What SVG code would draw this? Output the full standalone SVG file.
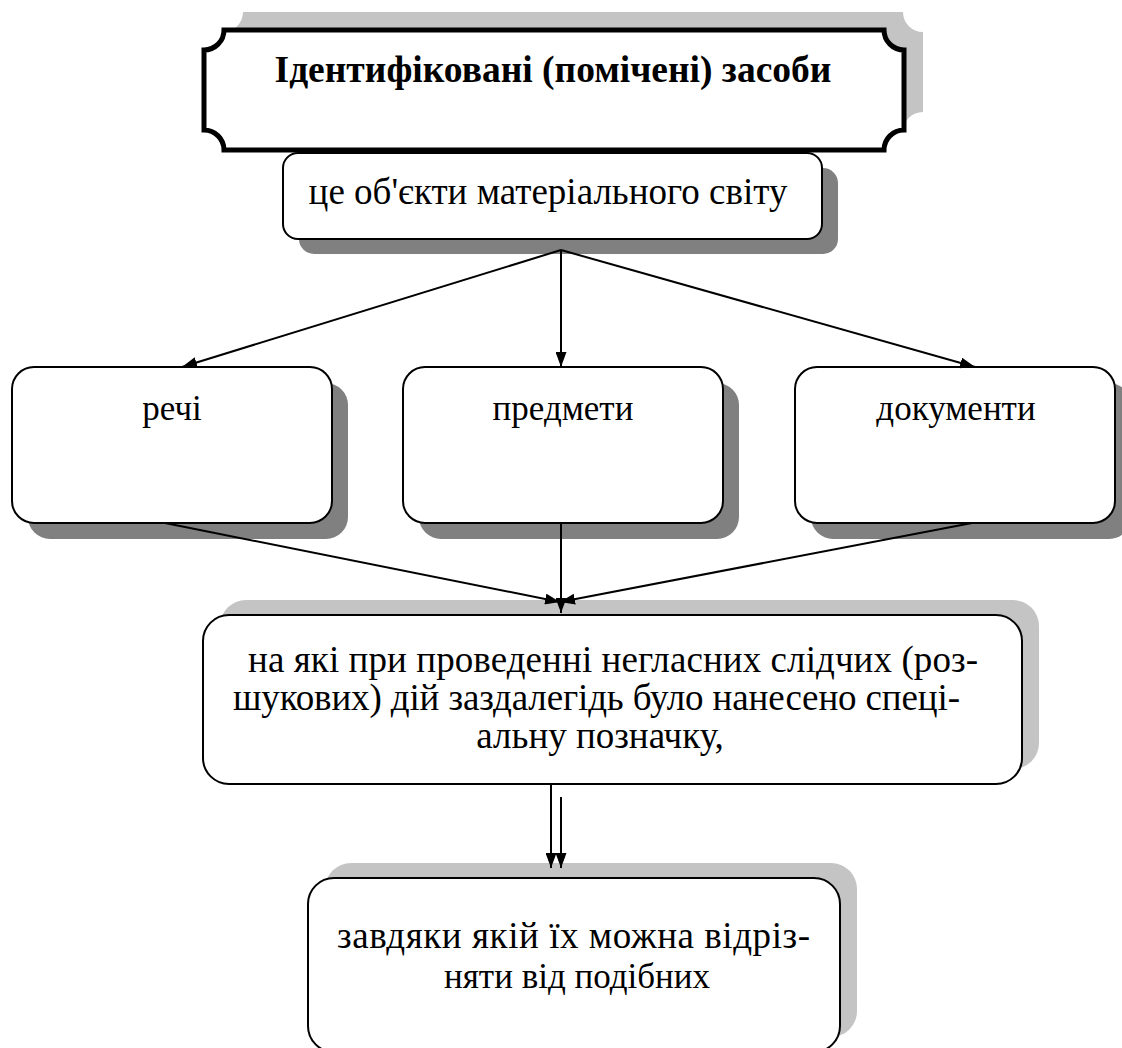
<svg xmlns="http://www.w3.org/2000/svg" width="1122" height="1048" viewBox="0 0 1122 1048">
<style>
.box{fill:#fff;stroke:#000;stroke-width:2}
.sh-dark{fill:#808080}
.sh-light{fill:#c4c4c4}
text{font-family:'Liberation Serif','DejaVu Serif',serif;fill:#000;text-anchor:middle}
.t{font-size:35px}
.tm{font-size:37px}
.tb{font-size:37.5px;font-weight:bold}
.st{text-anchor:start}
.c{stroke:#000;stroke-width:2;fill:none}
</style>
<defs>
<marker id="ah" viewBox="0 0 15 11" refX="15" refY="5.5" markerWidth="15" markerHeight="11" markerUnits="userSpaceOnUse" orient="auto">
<path d="M0,0 L15,5.5 L0,11 z" fill="#000"/>
</marker>
</defs>

<g id="node-title">
<path class="sh-light" d="M243,12 H903 A20 20 0 0 0 923,32 V112 A20 20 0 0 0 903,132 H243 A20 20 0 0 0 223,112 V32 A20 20 0 0 0 243,12 Z"/>
<path d="M224,30 H884 A20 20 0 0 0 904,50 V130 A20 20 0 0 0 884,150 H224 A20 20 0 0 0 204,130 V50 A20 20 0 0 0 224,30 Z" fill="#fff" stroke="#000" stroke-width="5"/>
<text class="tb" x="553" y="82">Ідентифіковані (помічені) засоби</text>
</g>

<g id="node-objects">
<rect class="sh-dark" x="299" y="168" width="539" height="86" rx="15"/>
<rect class="box" x="283" y="153" width="539" height="86" rx="15"/>
<text class="tm" x="548" y="204">це об'єкти матеріального світу</text>
</g>

<g id="node-rechi">
<rect class="sh-dark" x="28" y="383" width="320" height="156" rx="22"/>
<rect class="box" x="12" y="367" width="320" height="156" rx="22"/>
<text class="t" x="172" y="420">речі</text>
</g>

<g id="node-predmety">
<rect class="sh-dark" x="419" y="383" width="320" height="156" rx="22"/>
<rect class="box" x="403" y="367" width="320" height="156" rx="22"/>
<text class="t" x="563" y="420">предмети</text>
</g>

<g id="node-dokumenty">
<rect class="sh-dark" x="811" y="383" width="320" height="156" rx="22"/>
<rect class="box" x="795" y="367" width="320" height="156" rx="22"/>
<text class="t" x="956" y="420">документи</text>
</g>

<g id="node-mark">
<rect class="sh-light" x="220" y="600" width="819" height="169" rx="26"/>
<rect class="box" x="203" y="615" width="819" height="169" rx="26"/>
<text class="tm st" x="248" y="672" textLength="730" lengthAdjust="spacing">на які при проведенні негласних слідчих (роз-</text>
<text class="tm st" x="233" y="710" textLength="727" lengthAdjust="spacing">шукових) дій заздалегідь було нанесено спеці-</text>
<text class="tm" x="600" y="748">альну позначку,</text>
</g>

<g id="node-distinguish">
<rect class="sh-light" x="325" y="863" width="532" height="174" rx="26"/>
<rect class="box" x="308" y="878" width="532" height="174" rx="26"/>
<text class="tm st" x="337" y="948" textLength="473" lengthAdjust="spacing">завдяки якій їх можна відріз-</text>
<text class="t" x="577" y="988">няти від подібних</text>
</g>

<g id="connectors">
<line class="c" x1="561" y1="250" x2="182" y2="367" marker-end="url(#ah)"/>
<line class="c" x1="561" y1="250" x2="561" y2="367" marker-end="url(#ah)"/>
<line class="c" x1="561" y1="250" x2="975" y2="367" marker-end="url(#ah)"/>
<line class="c" x1="165" y1="523" x2="560" y2="602" marker-end="url(#ah)"/>
<line class="c" x1="561" y1="523" x2="561" y2="613" marker-end="url(#ah)"/>
<line class="c" x1="972" y1="523" x2="560" y2="602" marker-end="url(#ah)"/>
<line class="c" x1="551" y1="784" x2="551" y2="868" marker-end="url(#ah)"/>
<line class="c" x1="561" y1="797" x2="561" y2="868" marker-end="url(#ah)"/>
</g>
</svg>
